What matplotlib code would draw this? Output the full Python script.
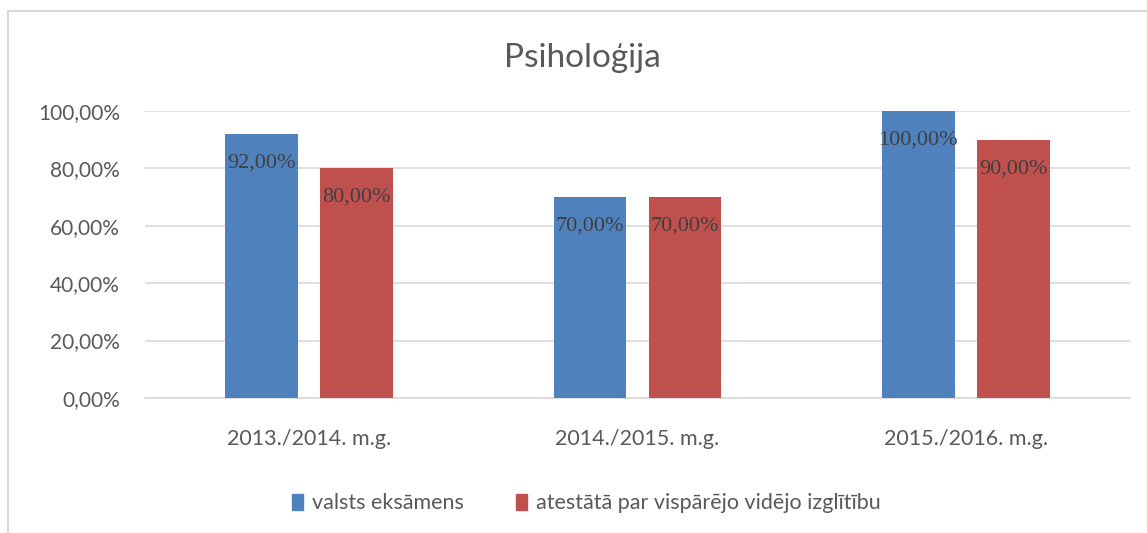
import numpy as np
import matplotlib.pyplot as plt
from matplotlib.lines import Line2D
from matplotlib.patches import Patch

categories = ['2013./2014. m.g.', '2014./2015. m.g.', '2015./2016. m.g.']
valsts = [0.92, 0.70, 1.00]
atestats = [0.80, 0.70, 0.90]
series_names = ['valsts eksāmens', 'atestātā par vispārējo vidējo izglītību']
y_ticks = [0.0, 0.2, 0.4, 0.6, 0.8, 1.0]
y_tick_labels = ['0,00%', '20,00%', '40,00%', '60,00%', '80,00%', '100,00%']

blue = '#4F81BD'
red = '#C0504D'
txt = '#595959'

plt.rcParams['font.family'] = ['Lato', 'DejaVu Sans']

fig = plt.figure(figsize=(11.47, 5.33), dpi=100)
ax = fig.add_axes([0.1264, 0.2533, 0.8588, 0.5385])

x = np.arange(len(categories))
w = 0.222
off = 0.1447
b1 = ax.bar(x - off, valsts, w, color=blue, zorder=3)
b2 = ax.bar(x + off, atestats, w, color=red, zorder=3)

for bars, vals in [(b1, valsts), (b2, atestats)]:
    for rect, v in zip(bars, vals):
        lbl = f'{v * 100:.2f}%'.replace('.', ',')
        ax.annotate(lbl, (rect.get_x() + rect.get_width() / 2, v),
                    xytext=(0, -21), textcoords='offset points',
                    ha='center', va='center', fontsize=16,
                    family='Liberation Serif', color='#404040', zorder=4)

ax.set_xlim(-0.5, len(categories) - 0.5)
ax.set_ylim(0, 1.0)
ax.set_yticks(y_ticks)
ax.set_yticklabels(y_tick_labels, fontsize=15, color=txt)
ax.set_xticks(x)
ax.set_xticklabels(categories, fontsize=15.5, color=txt)
ax.tick_params(length=0)
ax.tick_params(axis='y', pad=18)
ax.tick_params(axis='x', pad=22)
ax.yaxis.grid(True, color='#D9D9D9', linewidth=1.2, zorder=0)
for s in ['top', 'right', 'left']:
    ax.spines[s].set_visible(False)
ax.spines['bottom'].set_color('#D9D9D9')
ax.spines['bottom'].set_linewidth(1.2)

fig.text(0.508, 0.891, 'Psiholoģija', ha='center', va='center', fontsize=24, color=txt)

handles = [Patch(color=blue), Patch(color=red)]
fig.legend(handles, series_names, loc='center', bbox_to_anchor=(0.511, 0.056), ncol=2,
           frameon=False, fontsize=15.5, handlelength=0.55, handleheight=0.75,
           handletextpad=0.4, columnspacing=2.4, labelcolor=txt)

# chart border (top and left only, as in the crop)
fig.add_artist(Line2D([8 / 1147, 1], [1 - 11 / 533, 1 - 11 / 533], color='#D9D9D9', lw=1.5))
fig.add_artist(Line2D([8 / 1147, 8 / 1147], [0, 1 - 11 / 533], color='#D9D9D9', lw=1.5))

fig.savefig('out.png', dpi=100)
